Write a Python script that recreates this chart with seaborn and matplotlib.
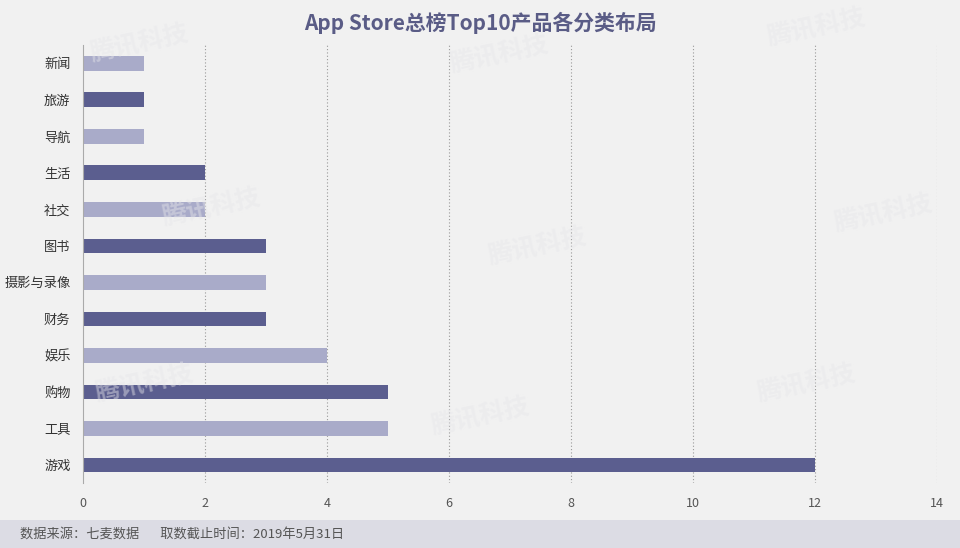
import matplotlib
matplotlib.use("Agg")
import matplotlib.pyplot as plt
import seaborn as sns
import pandas as pd

categories = ["新闻", "旅游", "导航", "生活", "社交", "图书", "摄影与录像", "财务", "娱乐", "购物", "工具", "游戏"]
values = [1, 1, 1, 2, 2, 3, 3, 3, 4, 5, 5, 12]
shades = ["light", "dark", "light", "dark", "light", "dark", "light", "dark", "light", "dark", "light", "dark"]
x_ticks = [0, 2, 4, 6, 8, 10, 12, 14]
title = "App Store总榜Top10产品各分类布局"
footer = "数据来源：七麦数据       取数截止时间：2019年5月31日"

palette = {"dark": "#5b5e8f", "light": "#a9abc9"}

sns.set_theme(style="white")
plt.rcParams["font.family"] = ["Noto Sans CJK SC", "DejaVu Sans"]

df = pd.DataFrame({"category": categories, "value": values, "shade": shades})

fig = plt.figure(figsize=(9.6, 5.48), dpi=100, facecolor="#f1f1f1")
ax = fig.add_axes([0.0865, 0.118, 0.8895, 0.800])
ax.set_facecolor("#f1f1f1")

sns.barplot(data=df, y="category", x="value", hue="shade", palette=palette,
            order=categories, dodge=False, width=0.4, legend=False, ax=ax,
            saturation=1, linewidth=0, edgecolor="none")

ax.set_xlim(0, 14)
ax.set_ylim(11.5, -0.5)
ax.set_xticks(x_ticks)
ax.set_xticklabels([str(t) for t in x_ticks], fontsize=9, color="#555555")
ax.tick_params(axis="y", labelsize=9.5, colors="#333333", length=0, pad=9)
ax.tick_params(axis="x", length=0, pad=10)
ax.set_xlabel("")
ax.set_ylabel("")
for t in x_ticks[1:]:
    ax.axvline(t, color="#999999", linestyle=(0, (1, 2)), linewidth=0.8, zorder=0)
for s in ["top", "right", "bottom"]:
    ax.spines[s].set_visible(False)
ax.spines["left"].set_color("#aaaaaa")
ax.spines["left"].set_linewidth(0.8)

fig.text(0.5, 0.958, title, ha="center", va="center", fontsize=15,
         fontweight="bold", color="#5a5c86")

# footer band
band = plt.Rectangle((0, 0), 1, 0.051, transform=fig.transFigure,
                     facecolor="#dcdce4", edgecolor="none", zorder=0)
fig.patches.append(band)
fig.text(0.021, 0.026, footer, ha="left", va="center", fontsize=9.5, color="#555555")

# faint watermarks
wm = [(0.145, 0.92), (0.52, 0.90), (0.85, 0.95), (0.22, 0.62), (0.56, 0.55),
      (0.92, 0.61), (0.15, 0.30), (0.50, 0.24), (0.84, 0.30)]
for x, y in wm:
    fig.text(x, y, "腾讯科技", ha="center", va="center", fontsize=18,
             color="#e6e6ea", alpha=0.45, rotation=12, zorder=0, fontweight="bold")

fig.savefig("out.png", dpi=100, facecolor=fig.get_facecolor())
